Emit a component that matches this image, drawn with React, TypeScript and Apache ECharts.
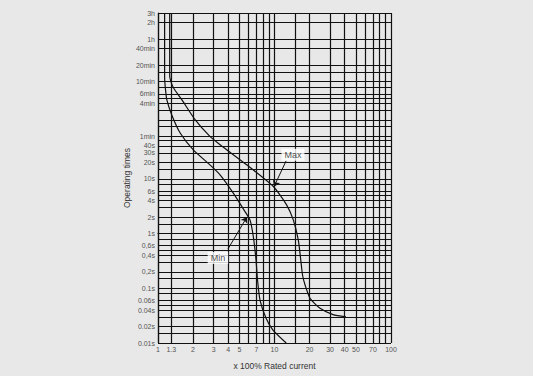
import React, { useEffect, useRef } from "react";
import * as echarts from "echarts";

// x axis: multiples of rated current
const xGridValues = [1, 1.3, 2, 3, 4, 5, 6, 7, 8, 9, 10, 15, 20, 30, 40, 50, 60, 70, 80, 90, 100];
const xLabelValues = [1, 1.3, 2, 3, 4, 5, 7, 10, 20, 30, 40, 50, 70, 100];
const xLabelTexts = ["1", "1.3", "2", "3", "4", "5", "7", "10", "20", "30", "40", "50", "70", "100"];

// y axis: operating time in seconds
const yGridValues = [10800, 7200, 3600, 2400, 1200, 900, 600, 480, 360, 300, 240, 180, 120, 90, 60, 50, 40, 30, 20, 15, 10, 8, 6, 5, 4, 3, 2, 1.5, 1, 0.8, 0.6, 0.5, 0.4, 0.3, 0.2, 0.15, 0.1, 0.08, 0.06, 0.05, 0.04, 0.03, 0.02, 0.015, 0.01];
const yLabelValues = [10800, 7200, 3600, 2400, 1200, 600, 360, 240, 60, 40, 30, 20, 10, 6, 4, 2, 1, 0.6, 0.4, 0.2, 0.1, 0.06, 0.04, 0.02, 0.01];
const yLabelTexts = ["3h", "2h", "1h", "40min", "20min", "10min", "6min", "4min", "1min", "40s", "30s", "20s", "10s", "6s", "4s", "2s", "1s", "0,6s", "0,4s", "0,2s", "0.1s", "0.06s", "0.04s", "0.02s", "0.01s"];

// Min curve
const minCurrent = [1.14, 1.14, 1.16, 1.19, 1.31, 1.55, 2.01, 2.79, 3.41, 4.43, 5.58, 6.16, 6.58, 6.94, 7.15, 7.51, 8.45, 9.7, 12.6];
const minTime = [10800, 700, 430, 281, 149, 69, 34, 18.1, 11.9, 5.5, 2.53, 1.78, 0.88, 0.33, 0.142, 0.061, 0.0286, 0.0172, 0.01];

// Max curve
const maxCurrent = [1.26, 1.26, 1.29, 1.36, 1.6, 2.08, 2.79, 3.41, 5.77, 9.77, 12.7, 14.5, 16.0, 16.8, 17.4, 18.3, 20.2, 24.6, 31.8, 41.1];
const maxTime = [10800, 760, 600, 460, 281, 121, 59.8, 42.2, 18.1, 7.26, 3.36, 1.78, 0.77, 0.33, 0.175, 0.115, 0.0656, 0.043, 0.033, 0.03];

// Annotations
const annotationNames = ["Max", "Min"];
const annotationCurrent = [14.4, 3.27];
const annotationTime = [27.6, 0.359];
const arrowFromCurrent = [12.6, 3.99];
const arrowFromTime = [21.5, 0.525];
const arrowToCurrent = [9.9, 5.81];
const arrowToTime = [7.2, 2.02];

const L = (v: number) => Math.log10(v);

function findLabel(values: number[], texts: string[], v: number) {
  for (let i = 0; i < values.length; i++) {
    if (Math.abs(L(values[i]) - v) < 1e-6) return texts[i];
  }
  return "";
}

export default function App() {
  const ref = useRef<HTMLDivElement>(null);
  useEffect(() => {
    if (!ref.current) return;
    const chart = echarts.init(ref.current, undefined, { renderer: "svg" });
    const font = "Liberation Sans, Arial, sans-serif";
    const gridLine = { color: "#111", width: 1.2 };
    const option: any = {
      animation: false,
      backgroundColor: "#e8e8e8",
      textStyle: { fontFamily: font },
      grid: { left: 158, right: 142, top: 13, bottom: 33 },
      xAxis: {
        type: "value",
        min: L(1),
        max: L(100),
        name: "x 100% Rated current",
        nameLocation: "middle",
        nameGap: 18,
        nameTextStyle: { fontSize: 8.5, color: "#333", fontFamily: font },
        axisLine: { show: true, lineStyle: gridLine },
        axisTick: { show: false, customValues: xGridValues.map(L) },
        axisLabel: {
          customValues: xLabelValues.map(L),
          formatter: (v: number) => findLabel(xLabelValues, xLabelTexts, v),
          fontSize: 7,
          color: "#555",
          margin: 3,
          fontFamily: font,
        },
        splitLine: { show: true, lineStyle: gridLine },
      },
      yAxis: {
        type: "value",
        min: L(0.01),
        max: L(10800),
        name: "Operating times",
        nameLocation: "middle",
        nameGap: 27,
        nameRotate: 90,
        nameTextStyle: { fontSize: 8.5, color: "#333", fontFamily: font },
        axisLine: { show: true, lineStyle: gridLine },
        axisTick: { show: false, customValues: yGridValues.map(L) },
        axisLabel: {
          customValues: yLabelValues.map(L),
          formatter: (v: number) => findLabel(yLabelValues, yLabelTexts, v),
          fontSize: 7,
          color: "#555",
          margin: 3,
          fontFamily: font,
        },
        splitLine: { show: true, lineStyle: gridLine },
      },
      series: [
        {
          type: "line",
          name: "Min",
          data: minCurrent.map((c, i) => [L(c), L(minTime[i])]),
          showSymbol: false,
          smooth: 0.2,
          lineStyle: { color: "#111", width: 1.2 },
          silent: true,
        },
        {
          type: "line",
          name: "Max",
          data: maxCurrent.map((c, i) => [L(c), L(maxTime[i])]),
          showSymbol: false,
          smooth: 0.2,
          lineStyle: { color: "#111", width: 1.2 },
          silent: true,
        },
        {
          type: "scatter",
          name: "labels",
          symbolSize: 1,
          itemStyle: { color: "rgba(0,0,0,0)" },
          silent: true,
          z: 5,
          data: annotationNames.map((n, i) => ({
            name: n,
            value: [L(annotationCurrent[i]), L(annotationTime[i])],
          })),
          label: {
            show: true,
            position: "inside",
            formatter: "{b}",
            backgroundColor: "#ffffff",
            padding: [2, 3, 1, 3],
            fontSize: 9,
            color: "#222",
            fontFamily: font,
          },
          labelLayout: { hideOverlap: false },
          markLine: {
            silent: true,
            symbol: ["none", "arrow"],
            symbolSize: 6,
            label: { show: false },
            lineStyle: { color: "#111", width: 1, type: "solid" },
            data: annotationNames.map((_, i) => [
              { coord: [L(arrowFromCurrent[i]), L(arrowFromTime[i])] },
              { coord: [L(arrowToCurrent[i]), L(arrowToTime[i])] },
            ]),
          },
        },
      ],
    };
    chart.setOption(option);
    return () => chart.dispose();
  }, []);
  return (
    <div
      ref={ref}
      style={{ position: "fixed", left: 0, top: 0, width: 533, height: 376 }}
    />
  );
}
